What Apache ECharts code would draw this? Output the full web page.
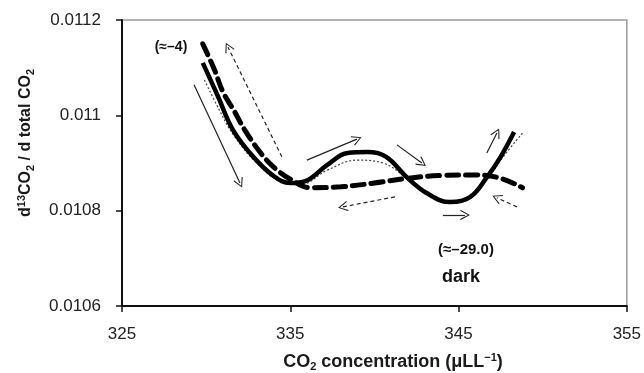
<!DOCTYPE html>
<html><head><meta charset="utf-8">
<script src="https://cdn.jsdelivr.net/npm/echarts@6/dist/echarts.min.js"></script>
<style>html,body{margin:0;padding:0;background:#fff}#c{width:644px;height:373px}</style>
</head><body><div id="c"></div>
<script>
// x ticks
var xTicks = [325, 335, 345, 355];
var yTicks = [0.0106, 0.0108, 0.0110, 0.0112];

// solid thick curve
var solidX = [329.8, 330.7, 331.6, 332.8, 334.0, 335.0, 335.9, 337.2, 338.4, 339.6, 340.7, 341.9, 343.1, 344.5, 345.7, 346.7, 347.5, 348.3];
var solidY = [0.01111, 0.01104, 0.010969, 0.010913, 0.010873, 0.010858, 0.010862, 0.010896, 0.010921, 0.010923, 0.010913, 0.010871, 0.010837, 0.010818, 0.010829, 0.010871, 0.010913, 0.010965];

// dashed thick curve
var dashX = [329.8, 330.5, 331.0, 331.7, 332.3, 333.2, 334.0, 335.0, 336.2, 338.0, 340.0, 342.0, 344.0, 346.0, 347.5, 348.8];
var dashY = [0.01115, 0.011095, 0.011049, 0.011007, 0.010969, 0.010923, 0.010892, 0.010866, 0.010848, 0.010850, 0.010858, 0.010868, 0.010874, 0.010875, 0.010868, 0.010848];

// dotted thin curve
var dotX = [329.9, 330.8, 331.6, 333.0, 334.5, 335.6, 337.2, 339.0, 340.5, 342.0, 343.5, 344.5, 345.7, 346.7, 347.7, 348.8];
var dotY = [0.011074, 0.01101, 0.01096, 0.0109, 0.01086, 0.010855, 0.010885, 0.010906, 0.0109, 0.010866, 0.010826, 0.010816, 0.010826, 0.010866, 0.010915, 0.010963];

// annotation arrows: [x1, y1, x2, y2]
var arrowsSolid = [
  [329.28, 0.011064, 332.01, 0.010858],
  [335.99, 0.010906, 338.96, 0.010950],
  [341.34, 0.010938, 342.82, 0.010900],
  [344.07, 0.010791, 345.38, 0.010791],
  [346.68, 0.010921, 347.28, 0.010963]
];
var arrowsDashed = [
  [334.50, 0.010913, 331.30, 0.011143],
  [341.22, 0.010829, 338.13, 0.010808],
  [348.47, 0.010808, 347.28, 0.010827]
];

function zip(a, b) { return a.map(function (v, i) { return [v, b[i]]; }); }
var chevron = 'path://M0,0 L6,10 L5,11 L0,2.2 L-5,11 L-6,10 Z';
function arrowLines(list) {
  return list.map(function (a) {
    return [{ coord: [a[0], a[1]], symbol: 'none' }, { coord: [a[2], a[3]], symbol: chevron, symbolSize: [10, 10] }];
  });
}

var chart = echarts.init(document.getElementById('c'));
var FONT = '"Liberation Sans", Arial, sans-serif';
var nameRich = {
  sub: { fontSize: 11, fontWeight: 'bold', fontFamily: FONT, fill: '#1a1a1a', padding: [9, 0, 0, 0] },
  sup: { fontSize: 11, fontWeight: 'bold', fontFamily: FONT, fill: '#1a1a1a', padding: [0, 0, 8, 0] }
};
chart.setOption({
  animation: false,
  backgroundColor: '#fff',
  grid: { left: 122, right: 17, top: 20, bottom: 67, show: true, borderColor: '#9a9a9a', borderWidth: 1.5 },
  xAxis: {
    type: 'value', min: xTicks[0], max: xTicks[xTicks.length - 1], interval: 10,
    axisLine: { onZero: false, lineStyle: { color: '#111', width: 2 } },
    axisTick: { show: true, length: 6, lineStyle: { color: '#111', width: 1.5 } },
    splitLine: { show: false },
    axisLabel: { color: '#222', fontSize: 17, fontFamily: FONT, margin: 20 }
  },
  yAxis: {
    type: 'value', min: yTicks[0], max: yTicks[yTicks.length - 1], interval: 0.0002,
    axisLine: { show: true, onZero: false, lineStyle: { color: '#111', width: 2 } },
    axisTick: { show: true, length: 6, lineStyle: { color: '#111', width: 1.5 } },
    splitLine: { show: false },
    axisLabel: { color: '#222', fontSize: 17, fontFamily: FONT, margin: 21,
      formatter: function (v) { return String(+v.toFixed(4)); } }
  },
  series: [
    {
      type: 'line', data: zip(dashX, dashY), smooth: 0.4, showSymbol: false,
      lineStyle: { color: '#000', width: 5, type: [12, 7], cap: 'round' }, z: 3
    },
    {
      type: 'line', data: zip(dotX, dotY), smooth: 0.4, showSymbol: false,
      lineStyle: { color: '#444', width: 1.2, type: [2, 2] }, z: 2
    },
    {
      type: 'line', data: zip(solidX, solidY), smooth: 0.4, showSymbol: false,
      lineStyle: { color: '#000', width: 4.5 }, z: 4,
      markLine: {
        silent: true, animation: false, label: { show: false },
        lineStyle: { color: '#222', width: 1.2, type: 'solid' },
        itemStyle: { color: '#222' },
        data: arrowLines(arrowsSolid)
      }
    },
    {
      type: 'line', data: [], showSymbol: false,
      markLine: {
        silent: true, animation: false, label: { show: false },
        lineStyle: { color: '#222', width: 1.2, type: [4, 3] },
        itemStyle: { color: '#222' },
        data: arrowLines(arrowsDashed)
      }
    }
  ],
  graphic: [
    { type: 'text', x: 393, y: 362, style: { text: 'CO{sub|2} concentration (μLL{sup|−1})', font: 'bold 18px ' + FONT, fill: '#1a1a1a', align: 'center', verticalAlign: 'middle', rich: nameRich } },
    { type: 'text', x: 26, y: 143, rotation: Math.PI / 2, style: { text: 'd{sup|13}CO{sub|2} / d total CO{sub|2}', font: 'bold 16px ' + FONT, fill: '#1a1a1a', align: 'center', verticalAlign: 'middle', rich: nameRich } },
    { type: 'text', x: 171, y: 47, style: { text: '(≈–4)', font: 'bold 14px ' + FONT, fill: '#111', align: 'center', verticalAlign: 'middle' } },
    { type: 'text', x: 466, y: 250, style: { text: '(≈–29.0)', font: 'bold 15px ' + FONT, fill: '#111', align: 'center', verticalAlign: 'middle' } },
    { type: 'text', x: 461, y: 277, style: { text: 'dark', font: 'bold 18px ' + FONT, fill: '#111', align: 'center', verticalAlign: 'middle' } }
  ]
});
</script></body></html>
